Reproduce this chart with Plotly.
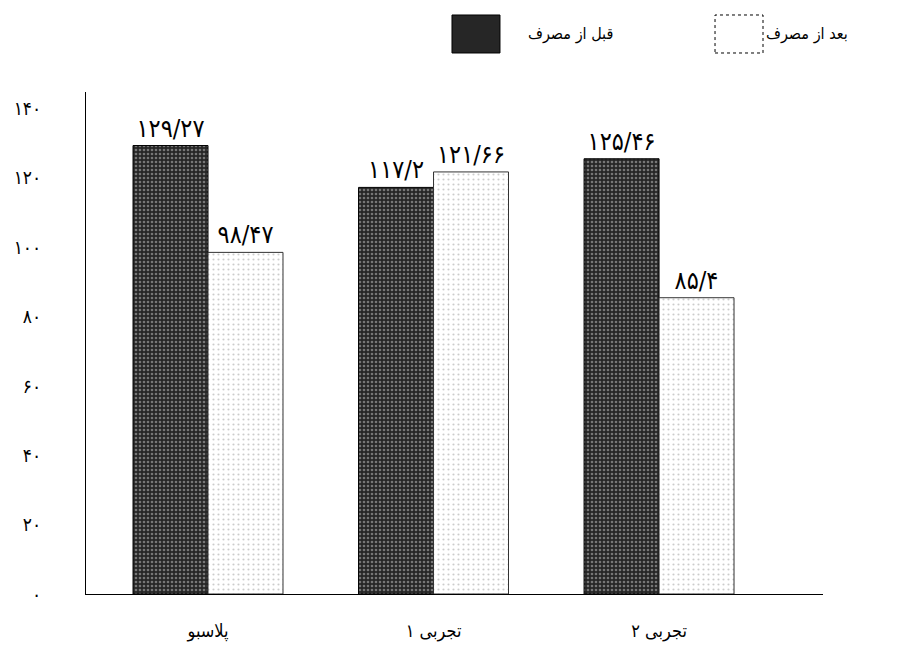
import plotly.graph_objects as go

categories = ["پلاسبو", "تجربی ۱", "تجربی ۲"]
before_values = [129.27, 117.2, 125.46]
after_values = [98.47, 121.66, 85.4]
series_names = ["قبل از مصرف", "بعد از مصرف"]
y_tickvals = [0, 20, 40, 60, 80, 100, 120, 140]

PERSIAN = str.maketrans("0123456789.", "۰۱۲۳۴۵۶۷۸۹/")


def fa(v):
    return str(v).translate(PERSIAN)


FONT = "DejaVu Sans Condensed, DejaVu Sans"
DARK = "#262626"

fig = go.Figure()
fig.add_trace(go.Bar(
    x=categories, y=before_values, name=series_names[0],
    text=[fa(v) for v in before_values], textposition="outside",
    cliponaxis=False, showlegend=False,
    textfont=dict(size=25),
    marker=dict(color=DARK,
                line=dict(color="black", width=1),
                pattern=dict(shape=".", bgcolor=DARK, fgcolor="#c8c8c8",
                             size=4, solidity=0.35, fillmode="overlay")),
))
fig.add_trace(go.Bar(
    x=categories, y=after_values, name=series_names[1],
    text=[fa(v) for v in after_values], textposition="outside",
    cliponaxis=False, showlegend=False,
    textfont=dict(size=25),
    marker=dict(color="white",
                line=dict(color="#333333", width=1),
                pattern=dict(shape=".", bgcolor="white", fgcolor="#9a9a9a",
                             size=5, solidity=0.15, fillmode="overlay")),
))

# manual legend (large boxes as in the reference)
legend_items = [
    dict(x0=0.4966, x1=0.5617, fill=DARK, dash="solid", tx=0.7178, label=series_names[0]),
    dict(x0=0.8535, x1=0.9186, fill="white", dash="dot", tx=1.037, label=series_names[1]),
]
for it in legend_items:
    fig.add_shape(type="rect", xref="paper", yref="paper",
                  x0=it["x0"], x1=it["x1"], y0=1.0777, y1=1.1534,
                  fillcolor=it["fill"], line=dict(color="black", width=1, dash=it["dash"]))
    fig.add_annotation(xref="paper", yref="paper", x=it["tx"], y=1.1155,
                       xanchor="right", yanchor="middle", showarrow=False,
                       text=it["label"], font=dict(size=16, color="black"))

fig.update_layout(
    width=911, height=643,
    margin=dict(l=78, r=96, t=84, b=57),
    paper_bgcolor="white", plot_bgcolor="white",
    barmode="group", bargap=0.335, bargroupgap=0,
    font=dict(family=FONT, size=18, color="black"),
    uniformtext=dict(minsize=25, mode="show"),
    showlegend=False,
    xaxis=dict(range=[-0.541, 2.727], showline=True, linecolor="black",
               linewidth=1, showgrid=False, ticks="", zeroline=False,
               automargin=False,
               ticklabelstandoff=20, tickfont=dict(size=18)),
    yaxis=dict(range=[0, 144.7], showline=True, linecolor="black",
               linewidth=1, showgrid=False, ticks="", zeroline=False,
               automargin=False,
               tickvals=y_tickvals, ticktext=[fa(v) for v in y_tickvals],
               ticklabelstandoff=40, tickfont=dict(size=19)),
)

fig.write_html("out.html")
